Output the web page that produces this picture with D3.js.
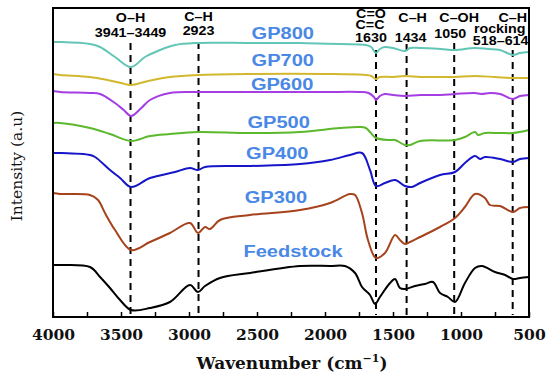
<!DOCTYPE html>
<html>
<head>
<meta charset="utf-8">
<title>FTIR spectra</title>
<script src="https://d3js.org/d3.v7.min.js"></script>
<style>
  body { margin: 0; background: #fff; }
  svg { display: block; }
</style>
</head>
<body>
<div id="chart"></div>
<script>
// spectra: [wavenumber, intensity (a.u.)]
var gp800 = [[4000,275],[3949,275],[3728,273],[3654,270],[3544,260],[3426,250],[3324,260],[3213,267],[3103,272],[2956,274],[2550,274],[2185,274],[1890,273],[1700,272],[1660,270],[1625,264],[1596,268],[1560,270],[1500,269],[1412,266],[1375,269],[1300,269],[1150,268],[1044,267],[900,269],[800,268],[713,267],[618,262],[566,264],[500,265]];
var gp700 = [[4000,243],[3949,242],[3728,240],[3600,237],[3500,234],[3426,232],[3300,236],[3140,240],[2934,242],[2550,243],[2000,243],[1700,242],[1660,241],[1625,238],[1596,240],[1500,240],[1412,241],[1300,240],[1150,240],[1044,240],[900,241],[750,240],[618,239],[500,239]];
var gp600 = [[4000,226],[3949,225],[3728,224],[3654,223],[3544,214],[3480,207],[3426,201],[3350,209],[3287,217],[3140,224],[2934,225],[2550,225],[2000,225],[1750,225],[1680,224],[1640,220],[1625,217],[1596,221],[1559,223],[1500,222],[1412,221],[1300,222],[1150,222],[1044,223],[900,224],[850,223],[787,224],[713,223],[618,218],[566,221],[500,222]];
var gp500 = [[4000,194],[3949,194],[3728,189],[3581,183],[3426,176],[3287,181],[3140,183],[2934,185],[2551,184],[2184,185],[1890,189],[1743,190],[1700,189],[1669,185],[1625,179],[1522,177],[1485,177],[1412,172],[1375,172],[1301,176],[1044,177],[971,180],[897,185],[875,182],[824,184],[713,184],[618,184],[500,187]];
var gp400 = [[4000,164],[3949,164],[3728,162],[3691,160],[3581,147],[3507,139],[3426,130],[3287,139],[3103,145],[2993,149],[2934,147],[2882,150],[2551,151],[2184,153],[1963,157],[1816,162],[1728,164],[1669,147],[1625,131],[1559,134],[1485,137],[1412,131],[1360,130],[1301,134],[1154,142],[1044,145],[971,154],[897,161],[860,158],[824,160],[713,158],[618,155],[566,158],[500,159]];
var gp300 = [[4000,124],[3949,123],[3728,122],[3669,117],[3618,104],[3544,87],[3426,67],[3287,75],[3140,84],[2993,94],[2934,84],[2882,90],[2846,88],[2772,97],[2551,102],[2184,107],[1963,114],[1816,123],[1779,122],[1728,104],[1684,77],[1625,59],[1559,64],[1485,82],[1449,77],[1412,73],[1375,75],[1301,80],[1154,90],[1044,99],[971,110],[897,123],[824,119],[787,112],[713,111],[618,105],[566,109],[500,110]];
var feedstock = [[4000,52],[3949,52],[3728,50],[3654,40],[3581,29],[3507,17],[3426,7],[3287,9],[3140,15],[2993,32],[2934,25],[2882,31],[2772,39],[2551,44],[2184,51],[1963,51],[1853,51],[1779,44],[1728,30],[1669,22],[1632,13],[1596,20],[1522,34],[1485,38],[1449,29],[1412,28],[1338,31],[1265,33],[1206,35],[1154,24],[1096,20],[1044,15],[971,34],[897,49],[846,51],[750,45],[676,42],[618,38],[566,39],[500,40]];

var seriesNames = ["GP800", "GP700", "GP600", "GP500", "GP400", "GP300", "Feedstock"];
var seriesData = [gp800, gp700, gp600, gp500, gp400, gp300, feedstock];
var seriesColors = ["#62c6b6", "#d2b82e", "#a43ee2", "#5cb82c", "#1616c8", "#a6421c", "#000000"];

// dashed marker lines and their labels
var peakPos = [3430, 2930, 1625, 1400, 1050, 620];
var peakLabels = [["O\u2013H", "3941\u20133449"], ["C\u2013H", "2923"], ["C=O", "C=C", "1630"], ["C\u2013H", "1434"], ["C\u2013OH", "1050"], ["C\u2013H", "rocking", "518\u2013614"]];

var xTicks = d3.range(500, 4001, 250);

var W = 550, H = 378;
var svg = d3.select("#chart").append("svg").attr("width", W).attr("height", H);

var x = d3.scaleLinear().domain([4000, 500]).range([53, 529]);
var y = d3.scaleLinear().domain([0, 309]).range([317, 8]);

// dashed lines
var dashTop = [43, 42, 50, 44, 43, 50];
svg.append("g").selectAll("line").data(peakPos).join("line")
  .attr("x1", d => x(d)).attr("x2", d => x(d))
  .attr("y1", (d, i) => dashTop[i]).attr("y2", 315)
  .attr("stroke", "#000").attr("stroke-width", 2)
  .attr("stroke-dasharray", "7,5");

// spectra
var line = d3.line().x(d => x(d[0])).y(d => y(d[1])).curve(d3.curveCatmullRom.alpha(0.5));
svg.append("g").selectAll("path").data(seriesData).join("path")
  .attr("d", line)
  .attr("fill", "none")
  .attr("stroke", (d, i) => seriesColors[i])
  .attr("stroke-width", 2);

// series names
var nameAt = [[2540, 278], [2540, 251], [2545, 227], [2570, 189], [2580, 158], [2590, 114], [2600, 60]];
svg.append("g").selectAll("text").data(seriesNames).join("text")
  .attr("transform", (d, i) => "translate(" + x(nameAt[i][0]) + "," + y(nameAt[i][1]) + ") scale(1.18,1)")
  .attr("font-family", "'Liberation Sans', Arial, sans-serif")
  .attr("font-weight", "bold")
  .attr("font-size", 17)
  .attr("fill", "#4a88e6")
  .text(d => d);

// peak labels: one text per peak, stacked lines as tspans
var labelBase = [[22, 37], [21, 35], [18, 29, 42], [22, 42], [22, 38], [22, 33, 45]];
var labelDx = [[0, 0], [0, 0], [-5, -6, -5], [6, 4], [5, -4], [0, -13, -12]];
var pl = svg.append("g")
  .attr("font-family", "'Liberation Sans', Arial, sans-serif")
  .attr("font-weight", "bold")
  .attr("font-size", 13)
  .attr("text-anchor", "middle");
peakLabels.forEach(function (lines, i) {
  var t = pl.append("text")
    .attr("transform", "translate(" + x(peakPos[i]) + ",0) scale(1.1,1)");
  lines.forEach(function (s, j) {
    t.append("tspan")
      .attr("x", labelDx[i][j] / 1.1)
      .attr("y", labelBase[i][j])
      .text(s);
  });
});

// frame
svg.append("rect")
  .attr("x", 53).attr("y", 8).attr("width", 476).attr("height", 309)
  .attr("fill", "none").attr("stroke", "#000").attr("stroke-width", 2);

// x axis
var xAxis = d3.axisBottom(x).tickValues(xTicks).tickSize(-5).tickPadding(12)
  .tickFormat(d => d % 500 === 0 ? d : "");
var gx = svg.append("g").attr("transform", "translate(0,317)").call(xAxis);
gx.select(".domain").remove();
gx.selectAll(".tick line").attr("stroke", "#000").attr("stroke-width", 1.5);
gx.selectAll("text")
  .attr("font-family", "'DejaVu Serif', serif")
  .attr("font-weight", "bold")
  .attr("font-size", 15.5)
  .attr("fill", "#111");

// axis titles
var xt = svg.append("text")
  .attr("x", 292).attr("y", 369)
  .attr("text-anchor", "middle")
  .attr("font-family", "'DejaVu Serif', serif")
  .attr("font-weight", "bold")
  .attr("font-size", 17)
  .attr("fill", "#111");
xt.append("tspan").text("Wavenumber (cm");
xt.append("tspan").attr("dy", -7).attr("font-size", 11).text("\u22121");
xt.append("tspan").attr("dy", 7).text(")");

svg.append("text")
  .attr("transform", "translate(22,166) rotate(-90)")
  .attr("text-anchor", "middle")
  .attr("font-family", "'DejaVu Serif', serif")
  .attr("font-size", 15.5)
  .attr("fill", "#111")
  .text("Intensity (a.u)");
</script>
</body>
</html>
